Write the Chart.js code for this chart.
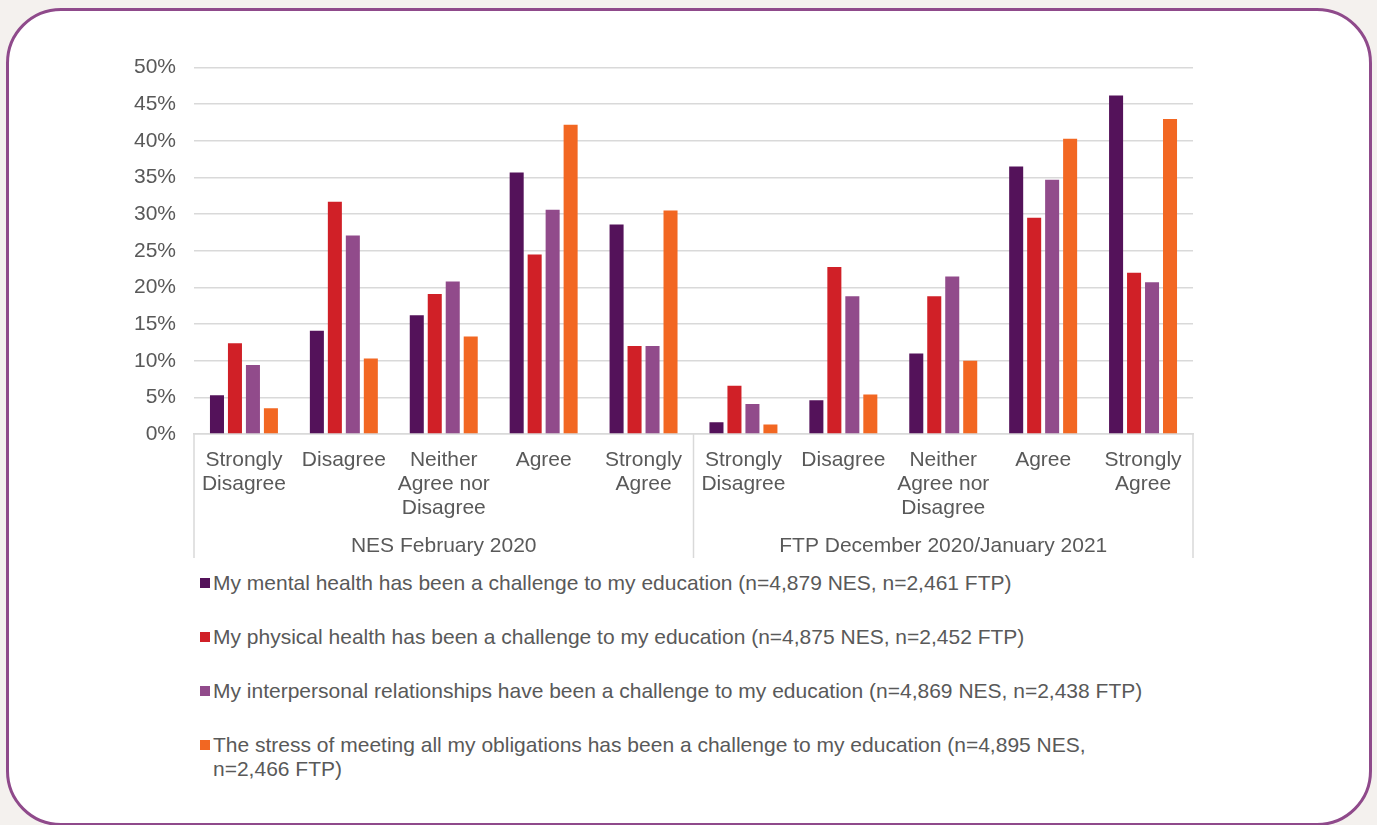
<!DOCTYPE html>
<html>
<head>
<meta charset="utf-8">
<script src="https://cdn.jsdelivr.net/npm/chart.js@4.4.0/dist/chart.umd.min.js"></script>
<style>
  body {
    margin: 0;
    width: 1377px;
    height: 825px;
    overflow: hidden;
    background: #f4f1ee;
    font-family: "Liberation Sans", Arial, sans-serif;
  }
  .panel {
    position: absolute;
    left: 6px;
    top: 8px;
    width: 1360px;
    height: 812px;
    background: #fff;
    border: 3px solid #8f4a8b;
    border-radius: 55px;
  }
  .chart-box {
    position: absolute;
    left: 100px;
    top: 37px;
    width: 1100px;
    height: 524px;
  }
  #legend {
    position: absolute;
    left: 200px;
    top: 571px;
    color: #595959;
    font-size: 21px;
    line-height: 24px;
  }
  .item {
    position: relative;
    padding-left: 13px;
    margin-bottom: 30px;
    white-space: pre-line;
  }
  .item span {
    position: absolute;
    left: 0;
    top: 7px;
    width: 10px;
    height: 10px;
  }
</style>
</head>
<body>
<div class="panel"></div>
<div class="chart-box"><canvas id="chart"></canvas></div>
<div id="legend"></div>
<script>
// data
const categories = [
  ["Strongly", "Disagree"], "Disagree", ["Neither", "Agree nor", "Disagree"], "Agree", ["Strongly", "Agree"],
  ["Strongly", "Disagree"], "Disagree", ["Neither", "Agree nor", "Disagree"], "Agree", ["Strongly", "Agree"]
];
const groups = ["NES February 2020", "FTP December 2020/January 2021"];

const mentalHealth = [5.3, 14.1, 16.2, 35.7, 28.6, 1.6, 4.6, 11.0, 36.5, 46.2];
const physicalHealth = [12.4, 31.7, 19.1, 24.5, 12.0, 6.6, 22.8, 18.8, 29.5, 22.0];
const relationships = [9.4, 27.1, 20.8, 30.6, 12.0, 4.1, 18.8, 21.5, 34.7, 20.7];
const obligations = [3.5, 10.3, 13.3, 42.2, 30.5, 1.3, 5.4, 10.0, 40.3, 43.0];

const seriesNames = [
  "My mental health has been a challenge to my education (n=4,879 NES, n=2,461 FTP)",
  "My physical health has been a challenge to my education (n=4,875 NES, n=2,452 FTP)",
  "My interpersonal relationships have been a challenge to my education (n=4,869 NES, n=2,438 FTP)",
  "The stress of meeting all my obligations has been a challenge to my education (n=4,895 NES,\nn=2,466 FTP)"
];
const colors = ["#54125a", "#d02027", "#914b8b", "#f26722"];
const yTicks = [0, 5, 10, 15, 20, 25, 30, 35, 40, 45, 50];

const textColor = "#595959";
const lineColor = "#d9d9d9";
Chart.defaults.font.family = '"Liberation Sans", Arial, sans-serif';
Chart.defaults.font.size = 21;
Chart.defaults.color = textColor;

let allSeries = [mentalHealth, physicalHealth, relationships, obligations];
let datasets = allSeries.map((values, i) => ({
  label: seriesNames[i],
  data: values,
  backgroundColor: colors[i],
  borderWidth: 0,
  categoryPercentage: 0.72,
  barPercentage: 0.78
}));

// vertical separators in the category label area
const separators = {
  id: "separators",
  afterDraw(chart) {
    let x = chart.scales.x;
    let x2 = chart.scales.x2;
    let mid = (x.getPixelForValue(4) + x.getPixelForValue(5)) / 2;
    let ctx = chart.ctx;
    ctx.save();
    ctx.strokeStyle = lineColor;
    ctx.lineWidth = 1.5;
    [x.left, mid, x.right].forEach(px => {
      ctx.beginPath();
      ctx.moveTo(px, x.top);
      ctx.lineTo(px, x2.bottom);
      ctx.stroke();
    });
    ctx.restore();
  }
};

new Chart(document.getElementById("chart"), {
  type: "bar",
  data: { labels: categories, datasets: datasets },
  options: {
    responsive: true,
    maintainAspectRatio: false,
    animation: false,
    layout: { padding: { top: 25, right: 7, bottom: 3, left: 0 } },
    plugins: {
      legend: { display: false },
      tooltip: { enabled: false }
    },
    scales: {
      y: {
        min: 0,
        max: 50,
        afterBuildTicks: scale => {
          scale.ticks = yTicks.map(v => ({ value: v }));
        },
        afterFit: scale => {
          scale.width = 94;
        },
        ticks: {
          padding: 18,
          callback: v => v + "%"
        },
        grid: { color: lineColor, lineWidth: 1.5, drawTicks: false },
        border: { display: false }
      },
      x: {
        afterFit: scale => {
          scale.height = 86;
        },
        ticks: { padding: 14, maxRotation: 0, autoSkip: false, font: { lineHeight: 24 / 21 } },
        grid: { display: false, drawTicks: false },
        border: { display: true, color: lineColor, width: 1.5 }
      },
      x2: {
        type: "category",
        position: "bottom",
        labels: groups,
        offset: true,
        afterFit: scale => {
          scale.height = 38;
        },
        ticks: { padding: 14, maxRotation: 0, font: { lineHeight: 24 / 21 } },
        grid: { display: false, drawTicks: false },
        border: { display: false }
      }
    }
  },
  plugins: [separators]
});

// legend list under the chart
let legend = document.getElementById("legend");
seriesNames.forEach((name, i) => {
  let item = document.createElement("div");
  item.classList.add("item");
  let box = document.createElement("span");
  box.style.background = colors[i];
  item.append(box, document.createTextNode(name));
  legend.append(item);
});
</script>
</body>
</html>
